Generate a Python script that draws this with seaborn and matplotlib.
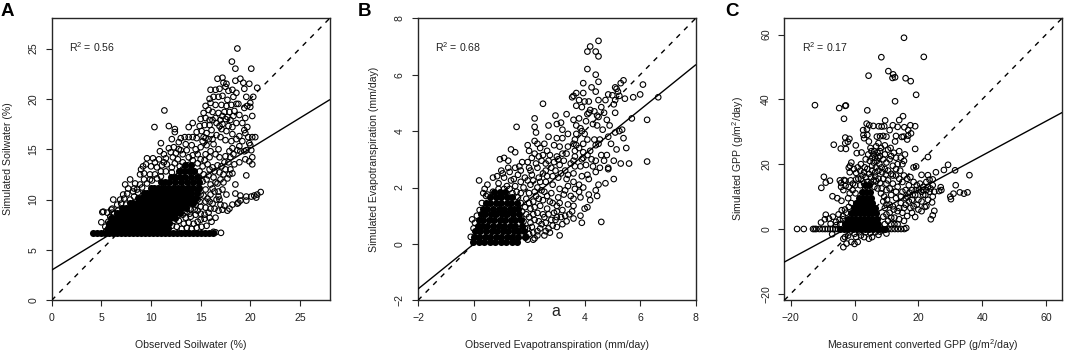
import matplotlib
matplotlib.use("Agg")
import matplotlib.pyplot as plt
import seaborn as sns

# ============================================================
# data (observed, simulated)
# ============================================================
soil_points = [
    (18.7,25.0),(18.15,23.7),(18.5,23.0),(20.1,23.0),(17.2,22.1),(16.7,22.0),(17.3,21.6),(17.6,21.5),(18.5,21.8),(19.0,22.0),
    (19.3,21.6),(19.9,21.5),(20.7,21.1),(19.4,21.0),(16.0,20.9),(16.5,20.9),(16.9,21.0),(17.5,21.2),(17.8,20.8),(18.2,20.9),
    (18.6,20.6),(20.3,20.2),(19.6,20.2),(15.9,20.0),(16.3,20.2),(16.8,20.2),(17.2,20.3),(17.7,19.9),(18.3,20.2),(18.8,19.5),
    (20.0,19.6),(19.7,19.3),(15.5,19.3),(16.0,19.6),(16.5,19.4),(17.1,19.4),(17.6,19.3),(18.1,19.4),(18.6,19.5),(19.4,19.1),
    (20.0,19.2),(15.3,18.6),(15.8,18.9),(16.2,18.7),(16.8,18.6),(17.4,18.7),(17.9,18.7),(18.4,18.8),(18.9,18.4),(19.5,18.1),
    (20.2,18.3),(15.0,18.0),(15.5,18.1),(15.9,17.9),(16.5,18.1),(17.0,17.9),(17.5,18.0),(18.0,17.9),(18.6,17.6),(19.2,17.6),
    (14.9,17.3),(15.4,17.4),(15.9,17.4),(16.6,17.6),(17.2,17.5),(17.8,17.3),(18.2,17.2),(19.4,16.9),(19.7,17.2),(14.6,16.7),
    (15.1,16.8),(15.6,16.6),(16.1,16.9),(17.1,17.0),(17.6,16.8),(18.2,16.5),(18.9,16.3),(19.5,16.6),(19.8,16.2),(20.2,16.2),
    (20.5,16.2),(11.35,18.85),(10.35,17.2),(11.8,17.3),(12.4,17.0),(12.4,16.7),(13.8,17.2),(14.2,17.6),(13.0,16.1),(12.1,16.0),
    (13.4,16.2),(13.8,16.2),(14.2,16.2),(14.6,16.1),(15.5,16.1),(16.2,16.0),(17.0,16.2),(17.5,15.9),(18.1,15.8),(18.6,16.0),
    (11.0,15.6),(10.9,14.8),(9.6,14.1),(10.2,14.1),(10.8,14.0),(11.3,14.5),(11.8,15.1),(12.3,15.2),(12.8,15.7),(13.5,15.5),
    (9.2,13.3),(9.0,13.0),(9.5,13.5),(10.0,13.3),(10.6,13.2),(11.3,13.7),(8.9,12.5),(9.3,12.6),(9.9,12.5),(10.4,12.5),
    (7.9,12.0),(8.4,11.6),(7.4,11.5),(7.7,11.1),(8.3,11.1),(8.9,11.5),(9.3,12.0),(7.2,10.5),(7.6,10.6),(8.2,10.8),
    (6.2,10.0),(6.9,10.0),(7.3,10.1),(6.1,9.1),(6.6,9.5),(7.0,9.6),(5.1,8.75),(5.2,8.8),(5.6,8.7),(6.1,8.7),(5.0,7.75),(5.4,7.3),
    (16.3,15.5),(16.8,15.0),(19.9,15.6),(20.0,15.4),(20.1,14.9),(19.6,14.9),(20.2,14.2),(19.4,14.8),(19.0,14.8),(18.7,14.9),
    (19.5,14.0),(19.9,13.8),(20.2,13.5),(18.3,14.5),(18.0,14.2),(17.8,13.7),(18.4,13.5),(18.9,13.7),(17.5,13.0),(18.0,13.0),
    (17.3,12.5),(19.6,12.4),(17.0,12.0),(16.7,11.6),(17.2,11.0),(18.5,11.5),(18.5,10.6),(16.8,10.8),(16.4,10.8),(16.8,10.3),(16.9,10.0),
    (21.05,10.75),(20.7,10.5),(20.4,10.4),(20.1,10.3),(19.6,10.3),(19.0,10.4),(20.6,10.2),(19.6,9.9),(19.0,9.9),(18.8,9.7),
    (18.7,9.6),(18.2,9.5),(17.9,9.1),(17.7,8.9),(17.2,9.0),(16.8,8.9),(16.4,9.1),(16.0,9.1),(15.8,8.7),(15.4,8.5),
    (15.9,8.2),(15.4,8.1),(15.0,8.0),(14.7,7.8),(17.05,6.7),(16.5,6.75),(16.3,6.8),
    (15.0,14.0),(15.5,14.5),(16.0,14.8),(16.5,14.5),(15.2,13.3),(15.7,13.5),(16.2,13.2),(16.7,13.4),(17.1,13.3),(14.5,15.0),
    (15.0,15.2),(13.2,14.5),(13.6,14.9),(14.2,14.4),(12.2,14.2),(12.7,14.0),(13.2,13.7),(11.6,13.5),(12.1,13.2),(15.3,12.5),
    (15.8,12.4),(16.3,12.2),(16.5,11.7),(16.0,11.5),(15.5,11.0),(16.0,10.5),(15.0,10.5),(15.5,9.8),(15.0,9.3),(14.5,9.5),
    (14.0,9.0),(15.5,9.2),(13.5,8.2),(14.0,8.3),(14.5,8.5),(14.8,12.2),(14.3,12.8),(13.7,13.4),(14.7,13.6),(12.8,15.0),(11.0,12.8),
]

# thicker part of the soilwater cloud
soil_points_dense = [
    (14.4,11.4),(14.8,11.2),(15.2,11.8),(15.6,12.0),(15.9,13.0),(16.4,12.8),(15.4,13.9),(15.9,14.2),(14.7,14.5),(14.2,13.9),
    (13.8,14.2),(14.9,12.8),(15.3,10.4),(15.7,10.1),(16.2,11.1),(14.7,10.0),(14.4,10.7),(14.9,9.8),(16.2,9.6),(15.9,9.8),
    (13.0,14.9),(12.5,14.6),(12.0,14.7),(11.5,14.1),(11.1,13.4),(10.4,13.7),(12.9,13.3),(12.4,13.6),(11.5,12.8),(10.6,12.1),
    (10.1,11.9),(9.6,11.6),(9.1,11.2),(8.7,10.7),(8.3,10.3),(7.9,10.0),(7.5,9.5),(7.2,9.1),(6.7,8.9),(6.3,8.6),
    (5.9,8.3),(5.7,7.8),(5.8,7.4),(5.5,6.9),(6.0,9.0),(8.6,11.0),(9.9,12.0),(11.0,12.3),(12.1,12.7),(13.2,13.0),
    (14.1,9.6),(14.4,9.0),(13.9,8.6),(14.7,8.9),(13.6,8.8),(13.2,8.5),(12.7,8.4),(12.3,7.9),(12.8,7.9),(13.3,7.6),
    (13.8,7.7),(14.3,7.6),(15.0,8.6),(12.1,7.4),(12.6,7.3),(13.1,7.1),(13.6,7.2),(14.1,7.1),(14.6,7.2),(15.1,7.3),
    (15.6,7.4),(16.1,7.8),(16.5,8.2),(17.4,9.4),(17.0,9.5),(16.6,10.0),(17.6,10.5),(17.3,11.7),(17.7,12.1),(18.2,12.6),
    (17.9,12.5),(16.9,12.7),(17.4,13.7),(16.9,14.2),(17.5,14.3),(15.6,15.4),(15.2,15.8),(14.1,15.4),(15.8,16.0),(16.6,16.4),
    (17.9,14.8),(18.2,15.1),(18.9,15.3),(19.2,15.8),(16.2,17.9),(16.9,17.3),(17.7,18.2),(18.3,18.3),(15.3,16.2),(17.2,18.3),
]

soil_core = [
    (6.7, [4.2,4.6,5.0,5.4,5.8,6.2,6.6,7.0,7.4,7.8,8.2,8.6,9.0,9.4,9.8,10.2,10.6,11.0,11.4,11.8,12.2,12.6,13.0,13.4,13.8,14.2,14.6,15.0,15.4,15.8,16.2]),
    (7.2, [5.7,6.2,6.7,7.2,7.7,8.2,8.7,9.2,9.7,10.2,10.7,11.2,11.7]),
    (7.7, [5.8,6.3,6.8,7.3,7.8,8.3,8.8,9.3,9.8,10.3,10.8,11.3,11.8]),
    (8.2, [6.0,6.4,6.9,7.4,7.9,8.4,8.9,9.4,9.9,10.4,10.9,11.4,11.9,12.4]),
    (8.7, [6.6,6.9,7.4,7.9,8.4,8.9,9.4,9.9,10.4,10.9,11.4,11.9,12.4,12.9]),
    (9.2, [7.1,7.5,8.0,8.5,9.0,9.5,10.0,10.5,11.0,11.5,12.0,12.5,13.0,13.5]),
    (9.7, [7.9,8.2,8.7,9.2,9.7,10.2,10.7,11.2,11.7,12.2,12.7,13.2,13.7,14.2]),
    (10.2, [8.7,9.0,9.5,10.0,10.5,11.0,11.5,12.0,12.5,13.0,13.5,14.0,14.5]),
    (10.7, [9.3,9.6,10.0,10.5,11.0,11.5,12.0,12.5,13.0,13.5,14.0,14.6]),
    (11.2, [10.0,10.3,10.7,11.2,11.7,12.2,12.7,13.2,13.7,14.2,14.8]),
    (11.7, [11.0,11.4,11.8,12.4,13.0,13.6,14.2,14.8]),
    (12.2, [12.0,12.4,12.9,13.4,14.0,14.6]),
    (12.8, [12.8,13.3,13.8,14.3]),
    (13.4, [13.4,14.0]),
]

et_points = [
    (4.5,7.2),(4.2,7.0),(4.1,6.82),(4.4,6.82),(4.5,6.65),(4.1,6.2),(4.4,6.0),(3.95,5.7),(4.5,5.75),(6.1,5.65),
    (5.4,5.8),(5.3,5.7),(4.25,5.55),(5.1,5.55),(5.15,5.5),(5.2,5.4),(4.4,5.4),(3.95,5.35),(3.7,5.35),(3.6,5.25),
    (3.55,5.2),(4.85,5.3),(5.0,5.27),(5.25,5.25),(6.0,5.3),(5.75,5.2),(6.65,5.2),(4.5,5.1),(4.15,5.05),(4.0,5.05),
    (3.8,5.1),(4.75,5.1),(5.1,5.1),(5.45,5.15),(2.5,4.97),(3.7,4.9),(3.9,4.85),(4.2,4.75),(4.35,4.7),(4.1,4.6),
    (4.15,4.65),(4.6,4.85),(4.7,4.65),(5.1,4.65),(5.05,4.95),(4.5,4.5),(4.45,4.55),(3.35,4.6),(2.95,4.55),(3.6,4.4),
    (3.8,4.45),(4.8,4.4),(5.7,4.45),(6.25,4.4),(2.2,4.45),(2.2,4.15),(1.55,4.15),(2.7,4.2),(3.0,4.25),(3.15,4.3),
    (3.7,4.2),(3.85,4.1),(4.05,4.35),(4.3,4.25),(4.45,4.2),(4.9,4.2),(4.65,4.05),(5.35,4.05),(5.25,4.0),(2.25,3.95),
    (3.2,4.05),(3.4,3.9),(3.9,4.0),(4.0,3.9),(4.1,3.7),(4.35,3.7),(4.55,3.7),(5.4,3.75),(4.85,3.8),(5.1,3.95),
    (2.2,3.65),(2.3,3.55),(2.55,3.55),(2.7,3.8),(3.0,3.75),(3.2,3.75),(3.65,3.7),(2.9,3.5),(3.1,3.45),(3.4,3.45),
    (3.65,3.3),(3.95,3.55),(4.4,3.5),(4.5,3.55),(4.95,3.55),(5.15,3.35),(5.5,3.4),(1.35,3.35),(1.5,3.25),(1.95,3.5),
    (2.0,3.3),(2.2,3.2),(2.4,3.4),(2.65,3.3),(3.2,3.2),(3.65,3.1),(3.95,3.05),(4.25,3.0),(4.6,3.15),(4.8,3.15),
    (0.95,3.0),(1.1,3.05),(1.25,2.95),(1.75,2.9),(1.95,2.9),(2.45,2.95),(2.7,2.95),(3.05,3.0),(3.6,2.95),(4.4,2.95),
    (5.05,2.95),(5.3,2.85),(5.6,2.85),(6.25,2.92),(4.85,2.7),(4.85,2.65),(5.05,2.3),(4.75,2.15),(4.6,0.78),(3.9,0.75),
    (3.85,1.0),(3.1,0.3),(4.45,1.7),(4.2,1.55),(4.4,1.9),(4.15,1.75),(3.85,1.65),(3.6,1.35),(4.0,1.25),(4.1,1.3),
    (4.5,2.1),(3.6,0.9),(3.35,0.8),(3.2,0.7),(3.0,0.6),(2.7,0.55),(2.55,0.3),(2.2,0.2),(1.95,0.15),(0.2,2.25),
    (-0.05,0.87),(-0.1,0.25),(0.0,0.55),(0.35,1.8),(0.4,1.95),(0.7,2.35),(0.5,2.1),(0.85,2.4),(1.0,2.6),(1.3,2.55),
    (0.45,1.7),(1.5,2.7),(1.7,2.6),(2.0,2.7),(2.3,2.7),(2.5,2.5),(2.8,2.7),(3.1,2.8),(3.35,2.3),(3.6,2.5),
    (3.9,2.4),(4.1,2.45),(4.15,2.3),(4.4,2.55),(3.8,2.1),(3.95,2.0),(3.65,1.95),(3.4,2.05),(3.1,1.95),(2.85,2.1),
    (2.6,2.2),(2.35,2.35),(2.1,2.45),(1.85,2.35),(1.6,2.45),(1.35,2.25),(1.1,2.35),(0.9,2.15),(1.2,2.05),(1.5,2.05),
    (1.8,2.0),(2.05,2.1),(2.3,2.0),(2.55,1.85),(2.8,1.8),(3.05,1.65),(3.25,1.75),(3.5,1.7),(2.0,1.8),(2.25,1.7),
    (2.5,1.55),(2.75,1.5),(3.0,1.35),(3.2,1.2),(3.45,1.05),(3.15,0.95),(2.9,1.1),(2.65,1.25),(2.4,1.35),(2.15,1.5),
    (1.9,1.6),(1.7,1.8),(2.3,1.1),(2.55,0.95),(2.8,0.85),(2.2,0.85),(2.45,0.7),(2.1,0.6),(2.3,0.45),(2.0,0.35),
    (1.85,1.3),(2.05,1.25),(1.9,1.05),(1.8,0.8),(2.85,2.4),(3.05,2.35),(2.6,2.6),(3.3,2.6),(3.5,2.85),(3.85,2.75),
    (4.05,2.8),(4.55,2.7),(4.7,2.95),(4.3,2.75),(3.0,3.1),(3.35,3.2),(2.75,3.15),(2.5,3.15),(3.8,3.4),(4.2,3.3),
]

# thicker part of the evapotranspiration cloud
et_points_dense = [
    (1.7,1.45),(1.75,1.15),(1.72,0.9),(1.85,0.55),(1.7,0.45),(1.55,0.2),(1.75,0.3),(1.45,0.08),(1.6,1.65),(1.4,1.8),
    (1.55,1.85),(1.3,1.95),(1.1,1.95),(0.9,1.95),(0.7,1.85),(0.5,1.75),(0.3,1.45),(0.22,1.2),(0.12,1.0),(0.05,0.75),
    (2.0,1.45),(2.2,1.3),(2.15,1.05),(2.0,0.95),(2.05,0.75),(1.95,0.55),(2.15,0.4),(2.35,0.8),(2.5,1.05),(2.6,0.75),
    (2.35,1.6),(2.65,1.7),(2.85,1.45),(3.0,1.15),(2.95,0.85),(2.7,1.05),(2.45,1.9),(2.2,1.85),(1.95,2.25),(1.7,2.2),
    (1.45,2.3),(2.15,2.25),(2.4,2.2),(2.65,2.4),(2.95,2.6),(3.15,2.5),(3.4,2.45),(3.6,2.2),(3.3,1.9),(3.1,1.45),
    (3.4,1.4),(3.6,1.6),(3.8,1.85),(3.25,2.95),(2.9,2.9),(2.6,2.85),(2.25,2.85),(2.05,2.6),(3.65,2.75),(3.9,3.0),
    (3.7,3.5),(3.7,3.9),(3.6,3.55),(3.95,3.25),(4.1,3.15),(2.35,3.1),(2.1,3.05),(1.65,2.75),(1.25,2.7),(1.05,2.5),
    (2.4,0.55),(2.6,0.45),(2.85,0.65),(1.9,0.25),(2.15,0.15),(2.75,0.4),(3.0,0.95),(3.3,1.0),(3.55,1.15),(2.3,0.3),
]

et_core = [
    (0.05, [-0.02,0.18,0.38,0.58,0.78,0.98,1.18,1.38,1.55]),
    (0.25, [0.02,0.2,0.4,0.6,0.8,1.0,1.2,1.4,1.6,1.85]),
    (0.45, [0.07,0.25,0.45,0.65,0.85,1.05,1.25,1.45,1.6,1.8]),
    (0.65, [0.15,0.3,0.5,0.7,0.9,1.1,1.3,1.5,1.75]),
    (0.85, [0.2,0.35,0.55,0.75,0.95,1.15,1.35,1.5,1.7]),
    (1.05, [0.28,0.42,0.62,0.82,1.02,1.22,1.42,1.65]),
    (1.25, [0.35,0.5,0.7,0.9,1.1,1.3,1.45,1.6]),
    (1.45, [0.45,0.6,0.8,1.0,1.2,1.35,1.55]),
    (1.65, [0.6,0.8,1.0,1.2,1.4]),
    (1.85, [0.75,0.95,1.15]),
]

gpp_points = [
    (15.5,59.0),(21.7,53.1),(8.4,53.0),(10.6,48.7),(12.1,47.7),(11.9,46.6),(12.7,46.8),(4.4,47.3),(16.0,46.5),(17.6,45.6),
    (19.3,41.4),(12.7,39.4),(-12.4,38.2),(-2.9,38.0),(-2.7,38.1),(-4.8,37.3),(4.0,36.6),(-3.3,34.0),(9.6,33.5),(15.2,34.8),
    (14.0,33.6),(3.8,32.5),(4.6,32.0),(5.9,31.8),(7.6,31.7),(8.5,31.6),(9.3,31.7),(12.0,32.0),(13.5,31.5),(15.6,31.4),
    (17.5,32.0),(19.0,31.7),(16.8,30.5),(2.7,30.5),(3.9,30.8),(11.0,30.5),(4.0,29.0),(2.8,29.0),(3.0,28.0),(7.0,28.5),
    (8.0,28.6),(9.0,28.7),(10.0,28.5),(13.0,28.7),(14.8,28.4),(15.4,28.5),(17.7,29.5),(16.8,28.8),(16.5,27.6),(12.7,27.0),
    (-2.9,28.2),(-1.6,27.8),(-2.9,26.5),(-2.1,26.9),(-6.5,26.0),(0.4,25.8),(-4.3,24.8),(-2.7,24.7),(19.0,24.7),(0.7,23.4),
    (2.2,23.6),(5.3,24.0),(14.0,24.0),(15.8,23.0),(23.0,22.2),(-1.0,20.5),(-1.4,19.5),(-1.8,18.9),(2.0,20.0),(15.0,20.0),
    (18.5,19.0),(19.3,19.3),(29.3,19.8),(28.0,18.2),(31.5,18.1),(36.0,16.6),(25.5,17.5),(23.0,16.6),(21.0,16.7),(-9.6,16.1),
    (-9.0,14.3),(-7.7,14.9),(-10.4,12.7),(-4.6,15.0),(-3.3,15.1),(-2.9,14.9),(-4.2,14.2),(-2.8,13.3),(-4.2,13.0),(-3.5,12.0),
    (-6.9,10.1),(-5.4,9.5),(-4.1,8.7),(31.7,13.5),(33.0,11.3),(34.3,10.9),(35.4,11.3),(31.0,10.9),(30.0,10.0),(30.2,9.2),
    (27.0,12.9),(26.5,11.7),(25.0,11.5),(24.5,10.0),(24.3,8.2),(25.0,5.6),(24.5,4.2),(23.9,3.0),(22.0,6.8),(21.0,5.5),
    (19.0,3.7),(27.2,12.0),(-18.0,0.0),(-15.9,0.0),(-13.0,0.0),(-12.5,0.0),(-12.0,0.0),(-11.0,0.0),(-10.0,0.0),(-9.2,0.0),
    (-8.4,0.0),(-7.6,0.0),(-6.8,0.0),(-6.0,0.0),(-5.2,0.0),(16.2,0.3),(15.6,0.0),(14.6,0.0),(13.6,0.0),(12.6,0.0),
    (11.6,0.0),(10.6,0.0),(-3.5,-5.6),(-3.5,-3.0),(-2.5,-4.5),(-1.0,-4.0),(0.0,-4.6),(1.0,-4.0),(4.5,-3.0),(5.5,-2.5),
    (7.5,-1.8),(10.0,-1.4),(-3.0,-2.5),(-2.0,-2.0),(0.5,-2.5),(2.0,-2.0),(3.0,-2.5),(-7.0,-1.6),(-9.0,4.4),(-9.3,3.0),
    (-8.0,3.2),(-10.5,2.0),(-6.8,3.8),(-5.0,4.5),(-4.0,5.8),(-3.0,6.0),(-7.5,1.6),(-5.8,2.2),(-4.5,1.5),(-3.6,3.0),
    (-2.0,9.5),(-1.5,11.0),(-1.8,13.0),(-1.2,15.0),(-1.5,17.5),(-0.2,18.5),(0.5,17.3),(1.0,19.0),(1.8,18.0),(1.2,15.5),
    (0.2,13.5),(-0.6,12.0),(0.3,11.0),(2.5,16.5),(3.2,19.0),(3.5,21.5),(4.3,23.0),(4.8,21.0),(5.5,22.0),(6.2,24.0),
    (6.8,25.5),(7.5,26.5),(8.3,25.0),(9.5,25.8),(10.5,24.5),(11.3,25.0),(12.3,23.5),(13.0,22.0),(14.5,22.0),(15.5,21.0),
    (6.0,20.5),(7.0,21.0),(8.0,22.5),(9.0,21.5),(10.0,20.5),(11.0,21.5),(12.0,19.5),(13.0,18.5),(14.3,18.0),(15.5,16.5),
    (16.5,15.5),(17.5,16.0),(18.5,14.5),(19.5,13.5),(20.5,14.0),(21.5,13.0),(22.5,14.5),(23.5,15.2),(24.5,15.3),(22.5,12.0),
    (23.5,11.5),(21.5,10.5),(20.0,9.0),(19.0,10.5),(18.0,12.0),(17.0,13.5),(16.0,12.0),(15.0,14.5),(14.0,15.5),(13.0,16.5),
    (11.5,17.0),(10.5,18.0),(9.5,18.5),(8.5,19.0),(7.5,18.0),(6.5,17.5),(5.5,18.0),(4.5,17.0),(3.5,16.0),(6.0,15.0),
    (7.5,15.5),(9.0,15.5),(10.5,15.0),(12.0,14.0),(13.5,13.0),(15.0,11.5),(16.5,10.0),(18.0,9.0),(19.5,7.5),(17.5,6.5),
    (16.0,7.5),(14.5,8.0),(13.0,9.5),(11.5,10.5),(10.0,12.0),(8.5,12.5),(12.0,7.0),(13.5,5.5),(15.0,5.0),(16.5,4.0),
    (15.5,2.5),(14.0,3.0),(12.5,3.5),(11.0,5.0),(10.0,7.5),(21.0,8.5),(23.0,9.0),(22.5,7.0),(20.0,6.0),(18.0,5.0),
]

# thicker part of the GPP cloud
gpp_points_dense = [
    (5.0,14.0),(6.2,13.0),(4.0,14.5),(3.0,14.0),(1.8,13.5),(7.2,12.5),(8.3,11.0),(9.3,10.0),(9.0,8.5),(10.2,9.0),
    (5.2,16.0),(6.5,16.2),(4.0,18.5),(5.5,19.5),(6.7,19.0),(7.8,20.0),(8.7,17.5),(9.8,16.8),(6.0,23.0),(7.2,23.5),
    (8.0,24.0),(5.0,25.0),(6.5,22.0),(7.5,22.0),(3.0,17.5),(2.0,15.5),(0.5,15.3),(-0.5,14.0),(-1.0,8.0),(-1.8,6.8),
    (-2.6,5.0),(-3.6,4.0),(-4.7,2.8),(-5.7,1.2),(-2.8,2.0),(-1.5,-1.0),(0.0,-1.5),(1.5,-1.0),(3.5,-1.0),(5.0,-1.2),
    (6.5,-1.0),(8.0,-0.8),(9.5,1.5),(10.5,2.5),(11.5,1.5),(12.5,1.5),(13.5,1.5),(9.0,3.8),(10.0,4.5),(11.5,3.5),
    (9.5,6.5),(11.0,7.5),(12.3,6.0),(14.0,6.5),(15.5,6.5),(17.0,8.5),(18.5,7.0),(13.0,11.5),(14.5,10.0),(16.0,9.5),
    (11.0,12.5),(12.0,16.5),(10.0,14.0),(8.0,14.2),(6.8,14.8),(3.3,12.8),(13.5,20.0),(11.5,22.5),(9.5,23.0),(4.5,27.0),
    (21.5,12.0),(23.0,13.0),(24.5,13.5),(23.8,12.5),(22.2,10.5),(21.0,11.5),(20.2,12.2),(19.2,12.0),(18.2,10.5),(17.2,11.2),
]

gpp_core = [
    (0.0, [-4.5,-3.2,-1.9,-0.6,0.7,2.0,3.3,4.6,5.9,7.2,8.5,9.6]),
    (1.6, [-3.0,-1.7,-0.4,0.9,2.2,3.5,4.8,6.1,7.4]),
    (3.2, [-2.2,-0.9,0.4,1.7,3.0,4.3,5.6,6.9]),
    (4.8, [-1.0,0.3,1.6,2.9,4.2,5.5,6.7]),
    (6.4, [-0.1,1.2,2.5,3.8,5.1,6.3]),
    (8.0, [0.5,1.8,3.1,4.4,5.6]),
    (9.6, [1.4,2.7,4.0,5.2]),
    (11.5, [2.4,3.7,5.0]),
    (13.5, [3.3,4.6]),
]

# fit lines (intercept, slope) and axis settings
soil_fit = (3.0, 0.604)
et_fit = (-0.01, 0.795)
gpp_fit = (1.46, 0.53)

soil_ticks = [0, 5, 10, 15, 20, 25]
et_ticks = [-2, 0, 2, 4, 6, 8]
gpp_ticks = [-20, 0, 20, 40, 60]

# ============================================================
# figure
# ============================================================
sns.set_theme(style="ticks")
plt.rcParams['font.family'] = ['Liberation Sans', 'DejaVu Sans']
plt.rcParams['mathtext.fontset'] = 'custom'
plt.rcParams['mathtext.rm'] = 'Liberation Sans'
plt.rcParams['mathtext.default'] = 'regular'

W, H = 1065, 352
TXT = "#222222"
FS = 7.6
fig = plt.figure(figsize=(W / 100, H / 100), dpi=100)


def draw_panel(box, points, core, fit, lims, ticks, xlabel, ylabel, r2, letter, letter_x, ylab_x):
    left, right = box
    ax = fig.add_axes([left / W, 1 - 300.3 / H, (right - left) / W, (300.3 - 18.3) / H])

    # saturated clumps of overlapping circles
    core_x = [x for y, xs in core for x in xs]
    core_y = [y for y, xs in core for x in xs]
    sns.scatterplot(x=core_x, y=core_y, ax=ax, color="black", s=26, linewidth=0, zorder=2)

    sns.scatterplot(x=[p[0] for p in points], y=[p[1] for p in points], ax=ax,
                    facecolor="none", edgecolor="black", linewidth=0.8, s=16, zorder=3)

    ax.axline((0, fit[0]), slope=fit[1], color="black", lw=1.0, zorder=4)
    ax.axline((0, 0), slope=1, color="black", lw=1.0, dashes=(3.6, 4.2), zorder=4)

    ax.set_xlim(lims)
    ax.set_ylim(lims)
    ax.set_xticks(ticks)
    ax.set_yticks(ticks)
    ax.tick_params(length=4.4, width=0.8, labelsize=FS, labelcolor=TXT, pad=5)
    plt.setp(ax.get_yticklabels(), rotation=90, va="center")
    for s in ax.spines.values():
        s.set_linewidth(1.0)

    fig.text((left + right) / 2 / W, 1 - 345 / H, xlabel, ha="center", va="center", fontsize=FS, color=TXT)
    fig.text(ylab_x / W, 1 - 159 / H, ylabel, ha="center", va="center", rotation=90, fontsize=FS, color=TXT)
    ax.text(0.062, 0.897, r2, transform=ax.transAxes, va="center", fontsize=FS, color=TXT)
    fig.text(letter_x / W, 1 - 12 / H, letter, ha="left", va="center", fontsize=13.5, fontweight="bold", color="black")
    return ax


draw_panel((51.7, 329.7), soil_points + soil_points_dense, soil_core, soil_fit, (0, 28), soil_ticks,
           "Observed Soilwater (%)", "Simulated Soilwater (%)", "R$^2$ = 0.56", "A", 1, 8)
draw_panel((418, 695.7), et_points + et_points_dense, et_core, et_fit, (-2, 8), et_ticks,
           "Observed Evapotranspiration (mm/day)", "Simulated Evapotranspiration (mm/day)", "R$^2$ = 0.68", "B", 358, 374)
draw_panel((784.3, 1062), gpp_points + gpp_points_dense, gpp_core, gpp_fit, (-22, 65), gpp_ticks,
           "Measurement converted GPP (g/m$^2$/day)", "Simulated GPP (g/m$^2$/day)", "R$^2$ = 0.17", "C", 725, 738)

# stray letter under panel B in the source picture
fig.text(556 / W, 1 - 312 / H, "a", ha="center", va="center", fontsize=11.5, color=TXT)

fig.savefig("out.png", dpi=100)
